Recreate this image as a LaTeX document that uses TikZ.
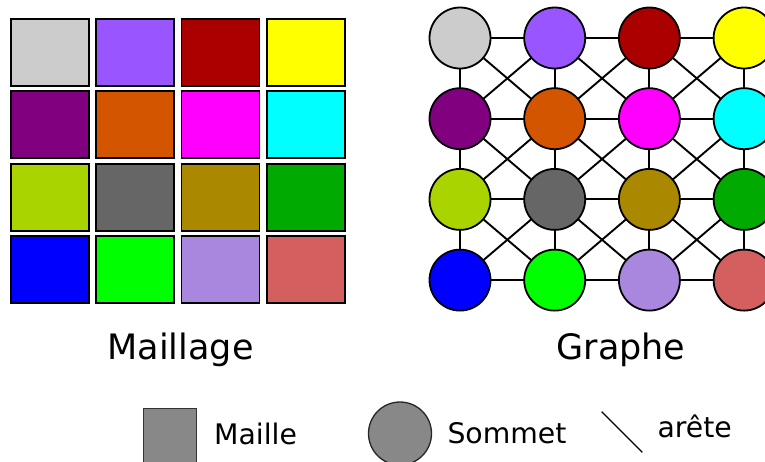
\documentclass[tikz,border=0pt]{standalone}
\usepackage{fontspec}
\setmainfont{DejaVu Sans}
\definecolor{c11}{HTML}{CCCCCC}\definecolor{c21}{HTML}{9955FF}\definecolor{c31}{HTML}{AA0000}\definecolor{c41}{HTML}{FFFF00}
\definecolor{c12}{HTML}{800080}\definecolor{c22}{HTML}{D45500}\definecolor{c32}{HTML}{FF00FF}\definecolor{c42}{HTML}{00FFFF}
\definecolor{c13}{HTML}{AAD400}\definecolor{c23}{HTML}{666666}\definecolor{c33}{HTML}{AA8800}\definecolor{c43}{HTML}{00AA00}
\definecolor{c14}{HTML}{0000FF}\definecolor{c24}{HTML}{00FF00}\definecolor{c34}{HTML}{AA87DE}\definecolor{c44}{HTML}{D35F5F}
\definecolor{legendgray}{HTML}{888888}
\begin{document}
\begin{tikzpicture}[x=1pt,y=-1pt,
  cellbox/.style={draw=black,line width=1.8pt,minimum width=78pt,minimum height=67pt,inner sep=0pt,outer sep=0pt},
  vertexdot/.style={circle,draw=black,line width=1.8pt,minimum size=61pt,inner sep=0pt},
  edgeline/.style={line width=1.9pt,black},
  bigtext/.style={font=\fontsize{35}{40}\selectfont,anchor=base,inner sep=0pt},
  legtext/.style={font=\fontsize{28.3}{32}\selectfont,anchor=base west,inner sep=0pt}]
\useasboundingbox (0,0) rectangle (765,461);
% mesh
\foreach \i in {1,...,4}{
  \foreach \j in {1,...,4}{
    \node[cellbox,fill=c\i\j] (s-\i-\j) at ({50+85.2*(\i-1)},{52.5+72.3*(\j-1)}) {};
  }
}
% graph vertex coordinates
\foreach \i in {1,...,4}{
  \foreach \j in {1,...,4}{
    \coordinate (p-\i-\j) at ({460+94.7*(\i-1)},{38+80.7*(\j-1)});
  }
}
% edges
\foreach \i [evaluate=\i as \ni using int(\i+1)] in {1,2,3}{
  \foreach \j in {1,...,4}{
    \draw[edgeline] (p-\i-\j) -- (p-\ni-\j);
    \draw[edgeline] (p-\j-\i) -- (p-\j-\ni);
  }
  \foreach \j [evaluate=\j as \nj using int(\j+1)] in {1,2,3}{
    \draw[edgeline] (p-\i-\j) -- (p-\ni-\nj);
    \draw[edgeline] (p-\ni-\j) -- (p-\i-\nj);
  }
}
% vertices
\foreach \i in {1,...,4}{
  \foreach \j in {1,...,4}{
    \node[vertexdot,fill=c\i\j] (v-\i-\j) at (p-\i-\j) {};
  }
}
% titles
\node[bigtext] (tmesh) at (180.6,359) {Maillage};
\node[bigtext] (tgraph) at (621,359) {Graphe};
% legend
\node[draw=black!80,line width=1pt,fill=legendgray,minimum width=53pt,minimum height=62pt,inner sep=0pt] (lsq) at (170,439) {};
\node[legtext] (lmaille) at (214,444.3) {Maille};
\node[circle,draw=black!85,line width=1.3pt,fill=legendgray,minimum size=63pt,inner sep=0pt] (lcirc) at (400,433.5) {};
\node[legtext] (lsommet) at (447.3,443.5) {Sommet};
\coordinate (la) at (601.7,411.7);
\coordinate (lb) at (642.3,452.3);
\draw[line width=1.4pt] (la) -- (lb);
\node[legtext] (larete) at (657.3,437.7) {arête};
\end{tikzpicture}
\end{document}
